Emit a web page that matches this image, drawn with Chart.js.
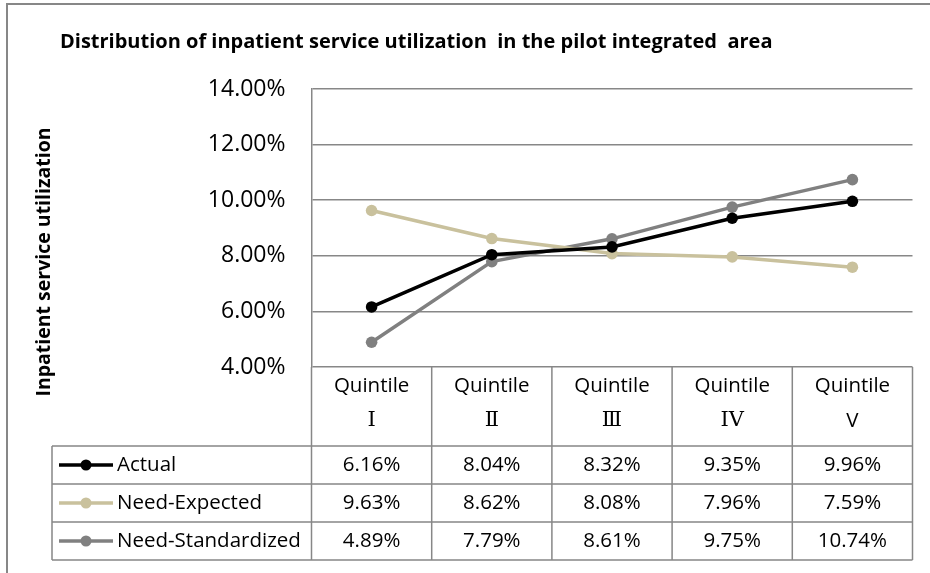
<!DOCTYPE html>
<html>
<head>
<meta charset="utf-8">
<script src="https://cdn.jsdelivr.net/npm/chart.js@4.4.1/dist/chart.umd.min.js"></script>
<style>
  html, body { margin: 0; padding: 0; background: #fff; }
  #wrap { width: 930px; height: 573px; position: relative; }
</style>
</head>
<body>
<div id="wrap"><canvas id="chart" width="930" height="573"></canvas></div>
<script>
const categories = ["Quintile Ⅰ", "Quintile Ⅱ", "Quintile Ⅲ", "Quintile IV", "Quintile V"];
const quintileNames = ["Ⅰ", "Ⅱ", "Ⅲ", "IV", "V"];
const actual = [6.16, 8.04, 8.32, 9.35, 9.96];
const needExpected = [9.63, 8.62, 8.08, 7.96, 7.59];
const needStandardized = [4.89, 7.79, 8.61, 9.75, 10.74];
const yTicks = [4, 6, 8, 10, 12, 14];

const lineGray = "#878787";
const sansFont = "'Open Sans', 'Noto Sans', sans-serif";

// data table drawn under the plot, columns follow the x scale
const tablePlugin = {
    id: "dataTable",
    afterDraw(chart) {
        const ctx = chart.ctx;
        const xs = chart.scales.x;
        const area = chart.chartArea;
        const colW = (area.right - area.left) / categories.length;
        const headerBottom = area.bottom + 79;
        const rowH = 38;
        const tableLeft = 52;
        const sets = chart.data.datasets;
        const tableBottom = headerBottom + rowH * sets.length;

        ctx.save();
        // outer frame of the whole picture
        ctx.strokeStyle = lineGray;
        ctx.lineWidth = 2;
        ctx.beginPath();
        ctx.moveTo(7, 573);
        ctx.lineTo(7, 4);
        ctx.lineTo(930, 4);
        ctx.stroke();

        // y axis title, centred on plot + header
        ctx.save();
        ctx.translate(44, 262);
        ctx.rotate(-Math.PI / 2);
        ctx.fillStyle = "#000";
        ctx.font = "bold 19.5px " + sansFont;
        ctx.textAlign = "center";
        ctx.textBaseline = "middle";
        ctx.fillText("Inpatient service utilization", 0, 0);
        ctx.restore();

        ctx.strokeStyle = lineGray;
        ctx.lineWidth = 1.5;
        ctx.beginPath();
        // column lines
        for (let i = 0; i <= categories.length; i++) {
            const x = area.left + i * colW;
            ctx.moveTo(x, area.bottom);
            ctx.lineTo(x, tableBottom);
        }
        ctx.moveTo(tableLeft, headerBottom);
        ctx.lineTo(tableLeft, tableBottom);
        for (let r = 0; r <= sets.length; r++) {
            const y = headerBottom + r * rowH;
            ctx.moveTo(tableLeft, y);
            ctx.lineTo(area.right, y);
        }
        ctx.stroke();

        ctx.fillStyle = "#000";
        ctx.textAlign = "center";
        ctx.textBaseline = "middle";
        categories.forEach((c, i) => {
            const x = xs.getPixelForValue(i);
            ctx.font = "20.5px " + sansFont;
            ctx.fillText(c.split(" ")[0], x, area.bottom + 19);
            ctx.font = i < 4 ? "21px 'DejaVu Serif', serif" : "20.5px " + sansFont;
            ctx.fillText(quintileNames[i], x, area.bottom + 54);
        });

        sets.forEach((ds, r) => {
            const yc = headerBottom + r * rowH + rowH / 2;
            // legend sample
            ctx.strokeStyle = ds.borderColor;
            ctx.lineWidth = 3.5;
            ctx.beginPath();
            ctx.moveTo(59, yc);
            ctx.lineTo(113, yc);
            ctx.stroke();
            ctx.fillStyle = ds.borderColor;
            ctx.beginPath();
            ctx.arc(86, yc, 5.5, 0, Math.PI * 2);
            ctx.fill();
            ctx.fillStyle = "#000";
            ctx.font = "20.5px " + sansFont;
            ctx.textAlign = "left";
            ctx.fillText(ds.label, 117, yc);
            ctx.textAlign = "center";
            ds.data.forEach((v, i) => {
                ctx.fillText(v.toFixed(2) + "%", xs.getPixelForValue(i), yc);
            });
        });
        ctx.restore();
    }
};

const ctx = document.getElementById("chart").getContext("2d");
const myChart = new Chart(ctx, {
    type: "line",
    data: {
        labels: categories,
        datasets: [
            { label: "Actual", data: actual, borderColor: "#000000", backgroundColor: "#000000" },
            { label: "Need-Expected", data: needExpected, borderColor: "#c9c19d", backgroundColor: "#c9c19d" },
            { label: "Need-Standardized", data: needStandardized, borderColor: "#808080", backgroundColor: "#808080" },
        ],
    },
    options: {
        responsive: false,
        animation: false,
        devicePixelRatio: 1,
        layout: { padding: { left: 60, right: 17.5, top: 0, bottom: 0 } },
        elements: {
            line: { borderWidth: 3.5, tension: 0 },
            point: { radius: 5.8, borderWidth: 0, hoverRadius: 5.8 },
        },
        plugins: {
            legend: { display: false },
            tooltip: { enabled: false },
            title: {
                display: true,
                text: "Distribution of inpatient service utilization  in the pilot integrated  area",
                align: "start",
                color: "#000",
                font: { family: sansFont, size: 20, weight: "bold", lineHeight: 1.2 },
                padding: { top: 30, bottom: 35 },
            },
        },
        scales: {
            x: {
                offset: true,
                grid: { display: false },
                border: { display: false },
                ticks: { display: false },
                afterFit: (scale) => { scale.height = 206; },
            },
            y: {
                min: 4,
                max: 14,
                afterBuildTicks: (scale) => { scale.ticks = yTicks.map(v => ({ value: v })); },
                afterFit: (scale) => { scale.width = 251.5; },
                grid: { color: lineGray, lineWidth: 1.5, drawTicks: false },
                border: { color: lineGray, width: 1.5 },
                ticks: {
                    padding: 26,
                    color: "#000",
                    font: { family: sansFont, size: 23 },
                    callback: (v) => v.toFixed(2) + "%",
                },
            },
        },
    },
    plugins: [tablePlugin],
});
</script>
</body>
</html>
